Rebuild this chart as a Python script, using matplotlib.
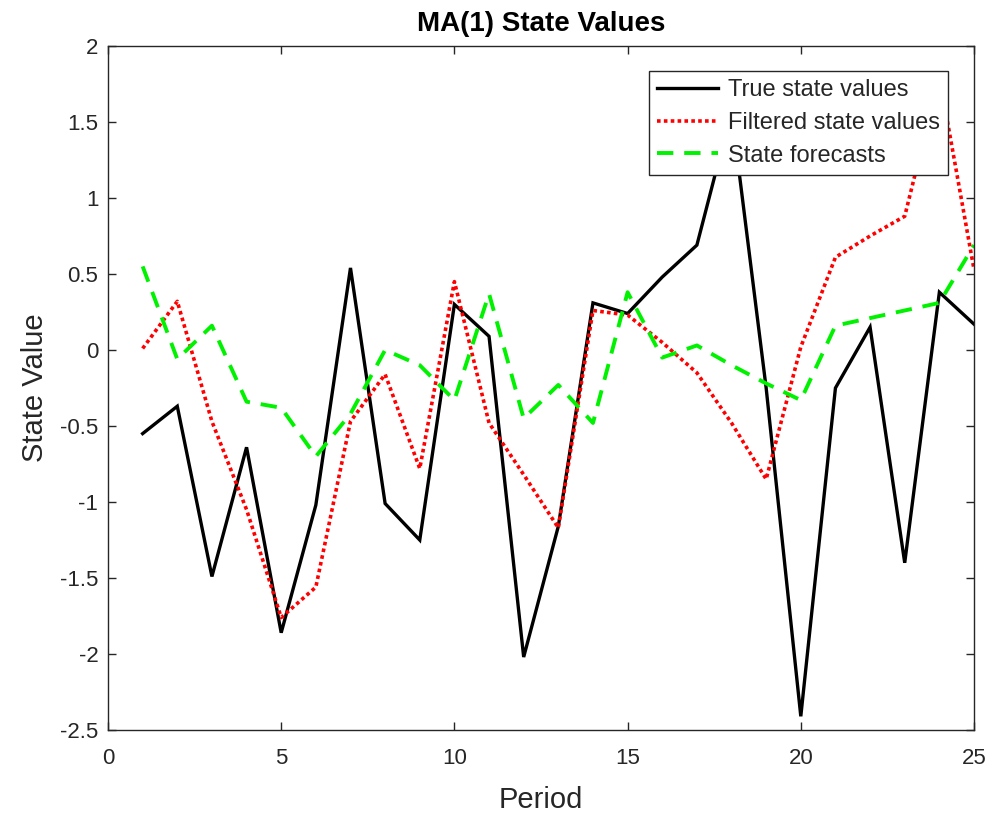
import matplotlib
matplotlib.use("Agg")
import matplotlib.pyplot as plt

periods = list(range(1, 26))
true_state = [-0.55, -0.37, -1.49, -0.64, -1.86, -1.02, 0.54, -1.01, -1.25, 0.30,
              0.09, -2.02, -1.16, 0.31, 0.24, 0.48, 0.69, 1.57, -0.25, -2.41,
              -0.25, 0.15, -1.40, 0.38, 0.17]
filtered_state = [0.01, 0.32, -0.47, -1.05, -1.76, -1.56, -0.47, -0.16, -0.78, 0.45,
                  -0.48, -0.82, -1.17, 0.26, 0.23, 0.05, -0.15, -0.48, -0.85, 0.02,
                  0.61, 0.75, 0.88, 1.80, 0.53]
forecast_state = [0.55, -0.06, 0.16, -0.34, -0.38, -0.70, -0.42, 0.00, -0.10, -0.33,
                  0.37, -0.45, -0.23, -0.48, 0.38, -0.05, 0.03, -0.10, -0.22, -0.33,
                  0.16, 0.21, 0.26, 0.31, 0.69]
labels = ["True state values", "Filtered state values", "State forecasts"]
title = "MA(1) State Values"
xlabel = "Period"
ylabel = "State Value"
xticks = [0, 5, 10, 15, 20, 25]
yticks = [-2.5, -2, -1.5, -1, -0.5, 0, 0.5, 1, 1.5, 2]

plt.rcParams['font.family'] = ['Liberation Sans', 'DejaVu Sans']
gray = (0.15, 0.15, 0.15)

W, H = 992, 816
fig = plt.figure(figsize=(W / 100, H / 100), dpi=100)
ax = fig.add_axes([108 / W, 1 - 730 / H, (974 - 108) / W, (730 - 46) / H])

ax.plot(periods, true_state, color='black', lw=2.4, solid_joinstyle='miter', label=labels[0])
ax.plot(periods, filtered_state, color='red', lw=2.6, linestyle=(0, (1.0, 0.9)), label=labels[1])
ax.plot(periods, forecast_state, color=(0, 0.95, 0), lw=2.8, linestyle=(0, (4.2, 2.8)), label=labels[2])

ax.set_xlim(0, 25)
ax.set_ylim(-2.5, 2)
ax.set_xticks(xticks)
ax.set_xticklabels([str(t) for t in xticks])
ax.set_yticks(yticks)
ax.set_yticklabels([('%g' % t) for t in yticks])
ax.tick_params(direction='in', top=True, right=True, length=6, width=1, colors=gray,
               labelsize=16, labelcolor=gray)
ax.tick_params(axis='x', pad=13)
ax.tick_params(axis='y', pad=7)
for s in ax.spines.values():
    s.set_color(gray)
    s.set_linewidth(1)

ax.set_title(title, fontsize=20, fontweight='bold', color='black', pad=11)
ax.set_xlabel(xlabel, fontsize=21, color=gray, labelpad=12)
ax.set_ylabel(ylabel, fontsize=21, color=gray, labelpad=8)

leg = ax.legend(loc='upper right', bbox_to_anchor=(948 / W, 1 - 71 / H),
                bbox_transform=fig.transFigure, fontsize=17,
                frameon=True, fancybox=False, handlelength=2.6, handletextpad=0.4,
                borderpad=0.35, labelspacing=0.45, borderaxespad=0, framealpha=1)
leg.get_frame().set_edgecolor(gray)
leg.get_frame().set_linewidth(1)
for t in leg.get_texts():
    t.set_color(gray)

fig.savefig("out.png", dpi=100)
